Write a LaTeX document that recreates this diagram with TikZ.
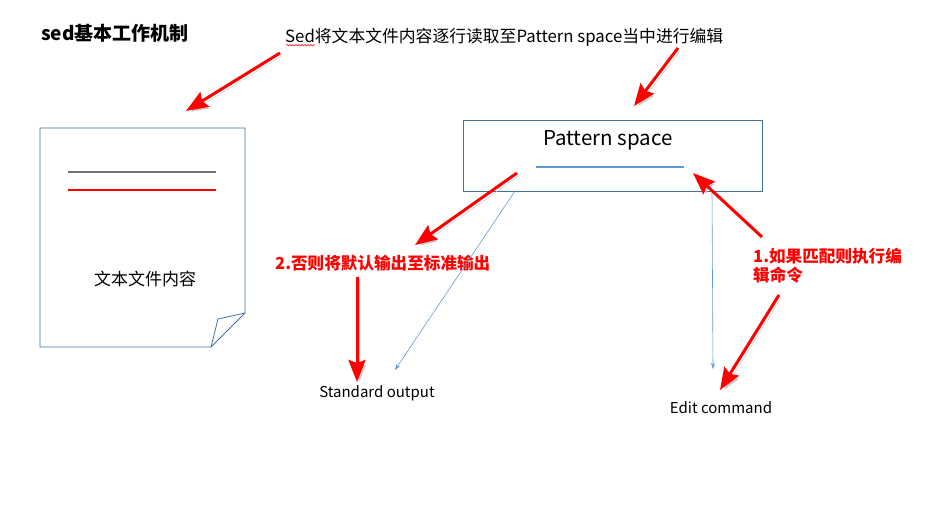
\documentclass[tikz,border=0pt]{standalone}
\usepackage{fontspec}
\setmainfont{Noto Sans CJK SC}
\usetikzlibrary{arrows.meta,decorations.pathmorphing}
\definecolor{docblue}{RGB}{65,113,156}
\definecolor{lineblue}{RGB}{91,155,213}
\definecolor{linegray}{RGB}{118,113,113}
\tikzset{
  redarrow/.style={draw=red, line width=3pt, -{Stealth[length=22pt,width=17pt,inset=3pt]},
    preaction={draw=black!22, transform canvas={shift={(2.5pt,-2.5pt)}}}},
  bluearrow/.style={draw=lineblue, line width=0.6pt, -{Stealth[length=6pt,width=4pt]}},
  rednote/.style={text=red, inner sep=0pt, align=left, font=\bfseries\fontsize{16.6}{19}\selectfont},
  plain/.style={inner sep=0pt, font=\fontsize{15}{18}\selectfont},
}
\begin{document}
\begin{tikzpicture}[x=1pt,y=-1pt]
  \path[fill=white,use as bounding box] (0,0) rectangle (929,526);
  \node[inner sep=0pt, anchor=west, font=\bfseries\fontsize{19}{22}\selectfont] (title) at (41,33) {sed基本工作机制};
  \node[inner sep=0pt, anchor=west, font=\fontsize{16.8}{20}\selectfont] (read) at (285,37) {Sed将文本文件内容逐行读取至Pattern space当中进行编辑};
  \draw[red, line width=0.5pt, decorate, decoration={snake, amplitude=0.7pt, segment length=3pt}]
    (read.south west) ++(1,-1) coordinate (sq0) -- ++(29,0) coordinate (sq1);
  \draw[docblue, line width=0.8pt]
    (40,128) coordinate (d0) -- (245,128) coordinate (d1) -- (245,313) coordinate (d2)
    -- (211,347) coordinate (d3) -- (40,347) coordinate (d4) -- cycle;
  \draw[docblue, line width=0.8pt] (d2) -- (218,319) coordinate (fold) -- (d3);
  \draw[linegray, line width=1.6pt] (68,172) coordinate (g0) -- (216,172) coordinate (g1);
  \draw[red, line width=1.6pt] (68,190) coordinate (h0) -- (216,190) coordinate (h1);
  \node[inner sep=0pt, font=\fontsize{17}{20}\selectfont] (doc) at (145,279) {文本文件内容};
  \node[draw=docblue, line width=0.8pt, minimum width=299pt, minimum height=71pt] (ps) at (612.5,155.5) {};
  \node[inner sep=0pt, font=\fontsize{20.5}{24}\selectfont] (pstext) at (608,140) {Pattern space};
  \draw[lineblue, line width=1.6pt] (536,167) coordinate (u0) -- (684,167) coordinate (u1);
  \node[plain] (so) at (377,393) {Standard output};
  \node[plain] (ec) at (721,408) {Edit command};
  \node[rednote, anchor=west] (else) at (275,263) {2.否则将默认输出至标准输出};
  \node[rednote, anchor=north west] (match) at (753,248) {1.如果匹配则执行编\\辑命令};
  \coordinate (ps1) at (515,191);
  \coordinate (ps2) at (712,191);
  \coordinate (so1) at (395,370);
  \coordinate (ec1) at (713,369);
  \begin{scope}[bluearrow]
    \draw (ps1) to (so1);
    \draw (ps2) to (ec1);
  \end{scope}
  \coordinate (r1) at (280,53);
  \coordinate (r2) at (186,111);
  \coordinate (r3) at (678,48);
  \coordinate (r4) at (634,106);
  \coordinate (r5) at (517,173);
  \coordinate (r6) at (415,245);
  \coordinate (r7) at (357,277);
  \coordinate (r8) at (357,382);
  \coordinate (r9) at (762,237);
  \coordinate (r10) at (693,173);
  \coordinate (r11) at (779,295);
  \coordinate (r12) at (720,390);
  \draw[redarrow] (r1) to (r2);
  \draw[redarrow] (r3) to (r4);
  \draw[redarrow] (r5) to (r6);
  \draw[redarrow] (r7) to (r8);
  \draw[redarrow] (r9) to (r10);
  \draw[redarrow] (r11) to (r12);
\end{tikzpicture}
\end{document}
